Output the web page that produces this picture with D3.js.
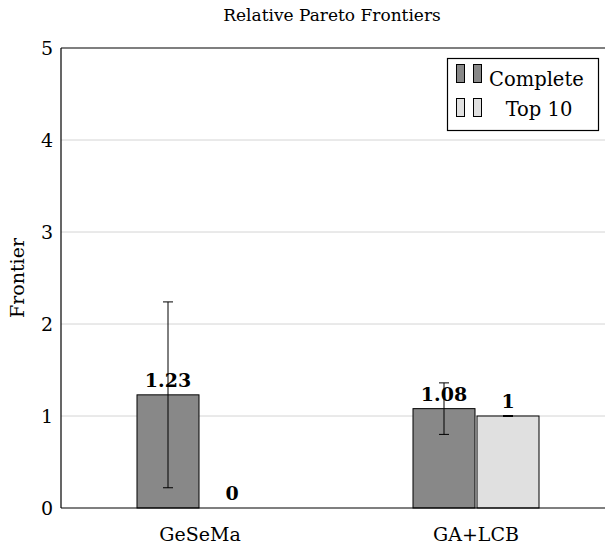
<!DOCTYPE html>
<meta charset="utf-8">
<head>
    <title>Relative Pareto Frontiers</title>
    <style>
        body { margin: 0; background: white; }
        svg { font-family: "DejaVu Serif", "Liberation Serif", serif; }
    </style>
</head>
<body>
    <script src="https://cdn.jsdelivr.net/npm/d3@7"></script>
    <script>
        // data
        var categories = ["GeSeMa", "GA+LCB"];
        var seriesNames = ["Complete", "Top 10"];
        var completeValues = [1.23, 1.08];
        var completeLow = [0.22, 0.80];
        var completeHigh = [2.24, 1.36];
        var top10Values = [0, 1];
        var top10Low = [0, 1];
        var top10High = [0, 1];
        var yTicks = [0, 1, 2, 3, 4, 5];

        var colors = ["#888888", "#e0e0e0"];

        var width = 605, height = 550;
        var svg = d3.select("body").append("svg")
            .attr("width", width)
            .attr("height", height);

        // enlarged x limits, like pgfplots
        var x = d3.scaleLinear().domain([-0.5, 1.5]).range([62, 614]);
        var y = d3.scaleLinear().domain([0, 5]).range([508, 48]);

        var barW = 62, offset = 32;

        // grid
        svg.append("g").selectAll("line")
            .data(yTicks.filter(function(d) { return d > 0 && d < 5; }))
            .enter().append("line")
            .attr("x1", 61).attr("x2", width)
            .attr("y1", function(d) { return y(d); })
            .attr("y2", function(d) { return y(d); })
            .attr("stroke", "#d4d4d4")
            .attr("stroke-width", 1);

        var series = [
            { name: seriesNames[0], vals: completeValues, lo: completeLow, hi: completeHigh, dx: -offset, color: colors[0] },
            { name: seriesNames[1], vals: top10Values, lo: top10Low, hi: top10High, dx: offset, color: colors[1] }
        ];

        series.forEach(function(s) {
            var g = svg.append("g");
            g.selectAll("rect")
                .data(s.vals)
                .enter().append("rect")
                .attr("x", function(d, i) { return x(i) + s.dx - barW / 2; })
                .attr("y", function(d) { return y(d); })
                .attr("width", barW)
                .attr("height", function(d) { return y(0) - y(d); })
                .attr("fill", s.color)
                .attr("stroke", "black")
                .attr("stroke-width", 1);

            // nodes near coords
            g.selectAll("text")
                .data(s.vals)
                .enter().append("text")
                .attr("x", function(d, i) { return x(i) + s.dx; })
                .attr("y", function(d) { return y(d) - 8; })
                .attr("text-anchor", "middle")
                .attr("font-weight", "bold")
                .attr("font-size", "19px")
                .text(function(d) { return d; });

            // error bars (drawn over the labels, as in the reference)
            s.vals.forEach(function(d, i) {
                if (d === 0) return;
                var cx = x(i) + s.dx;
                g.append("line")
                    .attr("x1", cx).attr("x2", cx)
                    .attr("y1", y(s.lo[i])).attr("y2", y(s.hi[i]))
                    .attr("stroke", "black").attr("stroke-width", 1);
                [s.lo[i], s.hi[i]].forEach(function(v) {
                    g.append("line")
                        .attr("x1", cx - 5).attr("x2", cx + 5)
                        .attr("y1", y(v)).attr("y2", y(v))
                        .attr("stroke", "black").attr("stroke-width", s.lo[i] === s.hi[i] ? 2 : 1);
                });
            });
        });

        // axes
        svg.append("line")
            .attr("x1", 61).attr("x2", width)
            .attr("y1", y(0)).attr("y2", y(0))
            .attr("stroke", "black").attr("stroke-width", 1.2);
        svg.append("line")
            .attr("x1", 61).attr("x2", width)
            .attr("y1", y(5)).attr("y2", y(5))
            .attr("stroke", "black").attr("stroke-width", 1.2);
        svg.append("line")
            .attr("x1", 61).attr("x2", 61)
            .attr("y1", y(0)).attr("y2", y(5))
            .attr("stroke", "black").attr("stroke-width", 1.2);

        svg.append("g").selectAll("text")
            .data(yTicks)
            .enter().append("text")
            .attr("x", 53)
            .attr("y", function(d) { return y(d) + 7; })
            .attr("text-anchor", "end")
            .attr("font-size", "19px")
            .text(function(d) { return d; });

        svg.append("g").selectAll("text")
            .data(categories)
            .enter().append("text")
            .attr("x", function(d, i) { return x(i); })
            .attr("y", 541)
            .attr("text-anchor", "middle")
            .attr("font-size", "19px")
            .text(function(d) { return d; });

        svg.append("text")
            .attr("transform", "translate(24," + y(2.5) + ") rotate(-90)")
            .attr("text-anchor", "middle")
            .attr("font-size", "19px")
            .text("Frontier");

        svg.append("text")
            .attr("x", 332).attr("y", 21)
            .attr("text-anchor", "middle")
            .attr("font-size", "17px")
            .text("Relative Pareto Frontiers");

        // legend
        var legend = svg.append("g").attr("id", "legend");
        legend.append("rect")
            .attr("x", 447.5).attr("y", 58.5)
            .attr("width", 151).attr("height", 72)
            .attr("fill", "white").attr("stroke", "black").attr("stroke-width", 1.2);
        seriesNames.forEach(function(name, i) {
            var top = 64 + i * 34;
            [456, 473].forEach(function(lx) {
                legend.append("rect")
                    .attr("x", lx + 0.5).attr("y", top + 0.5)
                    .attr("width", 8).attr("height", 18)
                    .attr("fill", colors[i]).attr("stroke", "black").attr("stroke-width", 1);
            });
            legend.append("text")
                .attr("x", i === 0 ? 489 : 539)
                .attr("y", 86 + i * 30)
                .attr("text-anchor", i === 0 ? "start" : "middle")
                .attr("font-size", "19.5px")
                .text(name);
        });
    </script>
</body>
</html>
